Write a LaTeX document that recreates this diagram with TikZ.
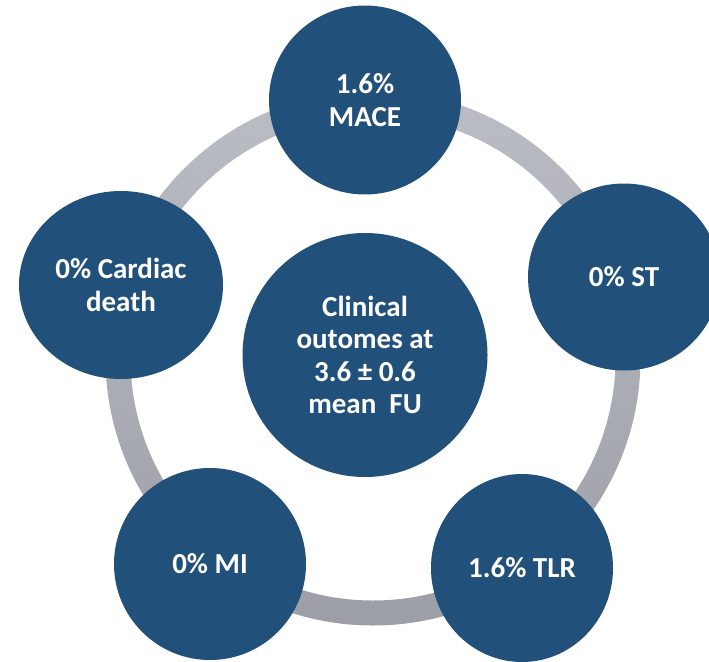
\documentclass[tikz,border=0pt]{standalone}
\usepackage[svgnames]{xcolor}
\usepackage{fontspec}
\setmainfont{Carlito}
\usepackage{tikz}
\usetikzlibrary{shapes.geometric}

\definecolor{discblue}{RGB}{33,80,122}
\definecolor{ringtop}{RGB}{186,189,195}
\definecolor{ringbottom}{RGB}{156,159,166}

\begin{document}
\begin{tikzpicture}[x=1pt, y=-1pt,
	disc/.style={ellipse, fill=discblue, text=white, inner sep=0pt, align=center, font=\fontsize{29}{32.3}\selectfont\bfseries}]
	\useasboundingbox (0,0) rectangle (709,661);
	\clip (0,0) rectangle (709,661);
	\shade[top color=ringtop, bottom color=ringbottom, even odd rule] (373,358) circle (267.5pt) (373,358) circle (242.5pt);
	\node[disc, minimum width=245pt, minimum height=244pt] (hub) at (365,355) {Clinical\\outomes at\\3.6 ± 0.6\\mean~~FU};
	\node[disc, minimum width=192pt, minimum height=189pt] (mace) at (365,100) {1.6\%\\MACE};
	\node[disc, minimum width=192pt, minimum height=187pt] (st) at (624,277) {0\% ST};
	\node[disc, minimum width=182pt, minimum height=188pt] (tlr) at (522,568) {1.6\% TLR};
	\node[disc, minimum width=192pt, minimum height=192pt] (mi) at (210,564) {0\% MI};
	\node[disc, minimum width=204pt, minimum height=188pt] (death) at (121,285) {0\% Cardiac\\death};
\end{tikzpicture}
\end{document}
